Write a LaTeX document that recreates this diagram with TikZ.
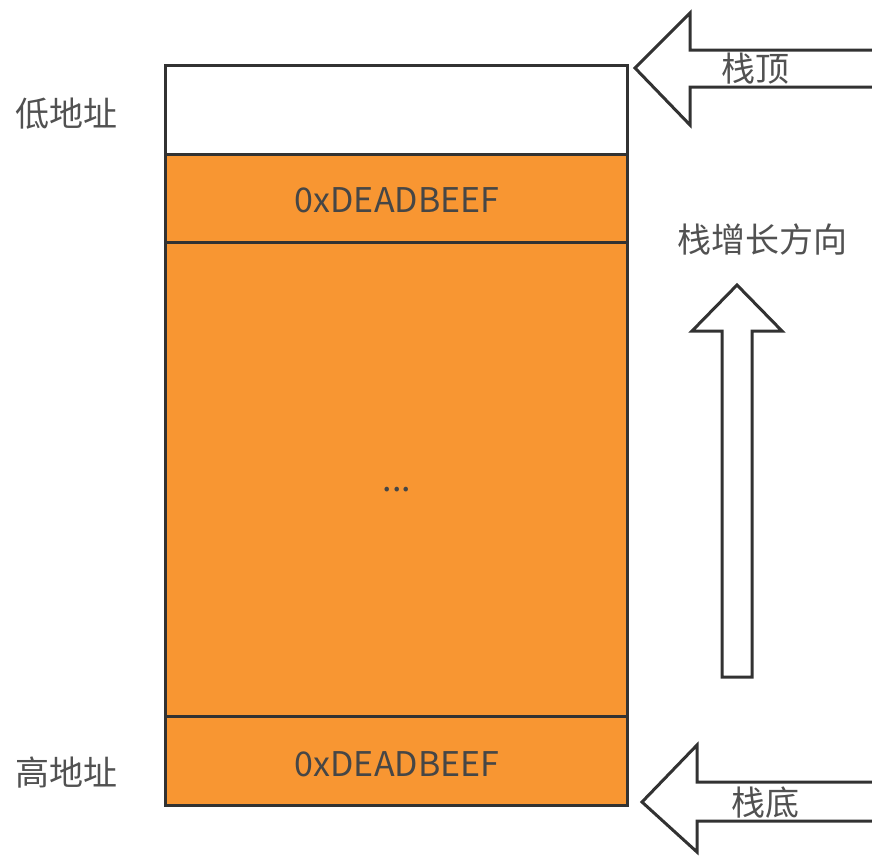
\documentclass[tikz,border=0pt]{standalone}
\usepackage{fontspec}
\setmainfont{Noto Sans CJK SC}
\definecolor{stackorange}{RGB}{248,150,50}
\definecolor{linegray}{RGB}{50,50,50}
\begin{document}
\begin{tikzpicture}[x=1pt,y=-1pt,
  cell/.style={draw=linegray,line width=3pt},
  fatarrow/.style={draw=linegray,line width=3pt,fill=white,line join=miter},
  lbl/.style={font=\fontsize{34}{38}\selectfont,text=linegray!90!white,inner sep=0pt},
  sidelbl/.style={font=\fontsize{34}{38}\selectfont,text=linegray!85!white,inner sep=0pt}]
\useasboundingbox (0,0) rectangle (872,855);
\clip (0,0) rectangle (872,855);
% stack cells
\path[cell,fill=white] (165,65) rectangle (627,154);
\path[cell,fill=stackorange] (165,154) rectangle (627,242);
\path[cell,fill=stackorange] (165,242) rectangle (627,716);
\path[cell,fill=stackorange] (165,716) rectangle (627,805);
\node[lbl] (v1) at (397,200) {0xDEADBEEF};
\node[lbl] (dots) at (397,490) {...};
\node[lbl] (v2) at (397,764) {0xDEADBEEF};
\node[sidelbl] (low) at (66,114) {低地址};
\node[sidelbl] (high) at (66,772) {高地址};
\node[sidelbl] (grow) at (762,240) {栈增长方向};
% top arrow
\draw[fatarrow] (880,50) -- (690,50) -- (690,13) -- (635,68) -- (690,125) -- (690,87) -- (880,87);
\node[sidelbl] (top) at (755,69) {栈顶};
% bottom arrow
\draw[fatarrow] (880,782) -- (697,782) -- (697,745) -- (642,802) -- (697,852) -- (697,821) -- (880,821);
\node[sidelbl] (bot) at (765,803) {栈底};
% growth arrow
\draw[fatarrow] (722,677) -- (722,331) -- (692,331) -- (737,285) -- (782,331) -- (752,331) -- (752,677) -- cycle;
\end{tikzpicture}
\end{document}
